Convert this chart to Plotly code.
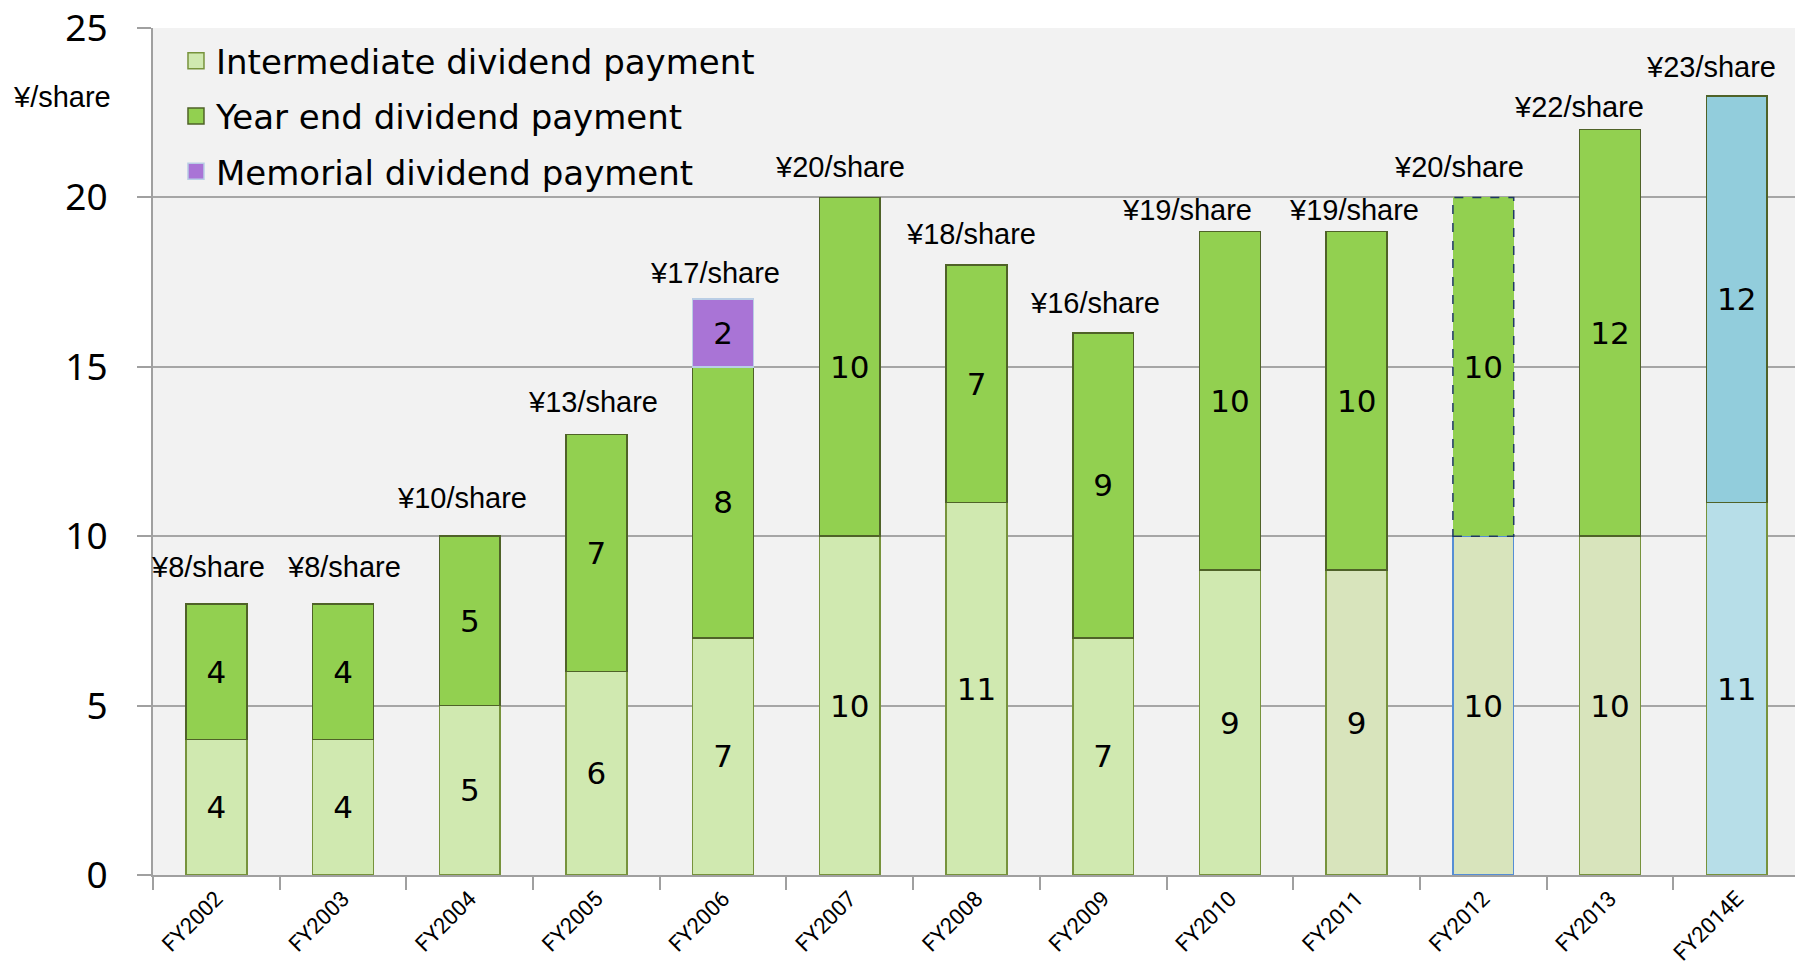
import plotly.graph_objects as go

categories = ["FY2002", "FY2003", "FY2004", "FY2005", "FY2006", "FY2007", "FY2008",
              "FY2009", "FY2010", "FY2011", "FY2012", "FY2013", "FY2014E"]
intermediate = [4, 4, 5, 6, 7, 10, 11, 7, 9, 9, 10, 10, 11]
year_end = [4, 4, 5, 7, 8, 10, 7, 9, 10, 10, 10, 12, 12]
memorial = [None, None, None, None, 2, None, None, None, None, None, None, None, None]
total_labels = ["¥8/share", "¥8/share", "¥10/share", "¥13/share", "¥17/share", "¥20/share",
                "¥18/share", "¥16/share", "¥19/share", "¥19/share", "¥20/share", "¥22/share",
                "¥23/share"]
series_names = ["Intermediate dividend payment", "Year end dividend payment",
                "Memorial dividend payment"]

# styles
inter_colors = ["#D0E9B0"] * 9 + ["#D8E4BC"] * 3 + ["#B7DEE8"]
inter_lines = ["#77933C"] * 10 + ["#558ED5"] + ["#77933C"] * 2
year_colors = ["#92D050"] * 12 + ["#92CDDC"]
year_line_w = [1.5] * 10 + [0] + [1.5] * 2
memorial_color = "#A974D6"
memorial_line = "#B9CDE5"
legend_fill = ["#D0E9B0", "#92D050", memorial_color]
legend_line = ["#77933C", "#4F6228", memorial_line]
label_dx = [-8, 1, -8, -3, -8, -10, -6, -8, -43, -3, -24, -31, -26]
label_dy = [37, 37, 38, 33, 26, 30, 31, 30, 21, 21, 30, 23, 29]

BAR_W = 0.48
inside_font = dict(family="DejaVu Sans", size=31, color="black")

fig = go.Figure()
fig.add_trace(go.Bar(
    x=categories, y=intermediate, name=series_names[0], showlegend=False,
    width=BAR_W,
    marker=dict(color=inter_colors, line=dict(color=inter_lines, width=1.5)),
    text=[str(v) for v in intermediate], textposition="inside",
    insidetextanchor="middle", textangle=0, textfont=inside_font,
    constraintext="none",
))
fig.add_trace(go.Bar(
    x=categories, y=year_end, name=series_names[1], showlegend=False,
    width=BAR_W,
    marker=dict(color=year_colors, line=dict(color="#4F6228", width=year_line_w)),
    text=[str(v) for v in year_end], textposition="inside",
    insidetextanchor="middle", textangle=0, textfont=inside_font,
    constraintext="none",
))
fig.add_trace(go.Bar(
    x=categories, y=memorial, name=series_names[2], showlegend=False,
    width=BAR_W,
    marker=dict(color=memorial_color, line=dict(color=memorial_line, width=1.5)),
    text=["" if v is None else str(v) for v in memorial], textposition="inside",
    insidetextanchor="middle", textangle=0, textfont=inside_font,
    constraintext="none",
))

# legend entries with larger square swatches
for k, nm in enumerate(series_names):
    fig.add_trace(go.Scatter(
        x=[None], y=[None], mode="markers", name=nm, legendgroup=nm,
        marker=dict(symbol="square", size=22, color=legend_fill[k],
                    line=dict(color=legend_line[k], width=1.5)),
        hoverinfo="skip",
    ))

# dashed outline of FY2012 year-end segment
i12 = categories.index("FY2012")
fig.add_shape(type="rect", xref="x", yref="y",
              x0=i12 - BAR_W / 2, x1=i12 + BAR_W / 2,
              y0=intermediate[i12], y1=intermediate[i12] + year_end[i12],
              line=dict(color="#1F3864", width=1.5, dash="dash"))

# total labels
for i, c in enumerate(categories):
    tot = intermediate[i] + year_end[i] + (memorial[i] or 0)
    fig.add_annotation(x=c, y=tot, text=total_labels[i], showarrow=False,
                       xanchor="center", yanchor="middle",
                       xshift=label_dx[i], yshift=label_dy[i],
                       font=dict(family="Liberation Sans", size=29, color="black"))

fig.add_annotation(xref="paper", yref="paper", x=0, y=0.919, text="¥/share",
                   showarrow=False, xanchor="right", yanchor="middle", xshift=-40,
                   font=dict(family="Liberation Sans", size=29, color="black"))

fig.update_layout(
    width=1795, height=966,
    margin=dict(l=153, r=0, t=28, b=91),
    barmode="stack",
    paper_bgcolor="white", plot_bgcolor="#F2F2F2",
    showlegend=True,
    legend=dict(x=0.014, y=0.995, xanchor="left", yanchor="top",
                traceorder="grouped", tracegroupgap=8, itemsizing="trace",
                bgcolor="rgba(0,0,0,0)",
                font=dict(family="DejaVu Sans", size=34, color="black")),
    xaxis=dict(range=[-0.5, 12.46], tickson="boundaries", ticks="outside",
               ticklen=13, tickcolor="#A0A0A0", tickwidth=2,
               showline=True, linecolor="#A0A0A0", linewidth=2,
               showgrid=False, tickangle=-45, automargin=False,
               ticklabeloverflow="allow",
               tickfont=dict(family="Roboto", size=22, color="black")),
    yaxis=dict(range=[0, 25], dtick=5, ticks="outside", ticklen=14,
               tickcolor="#A0A0A0", tickwidth=2, showline=True,
               linecolor="#A0A0A0", linewidth=2, gridcolor="#A6A6A6",
               gridwidth=2, zeroline=False, ticklabelstandoff=22,
               automargin=False, ticklabeloverflow="allow",
               tickfont=dict(family="Noto Sans", size=37, color="black")),
)

fig.write_html("out.html", config={"displayModeBar": False},
               post_script="document.body.style.margin='0';")
